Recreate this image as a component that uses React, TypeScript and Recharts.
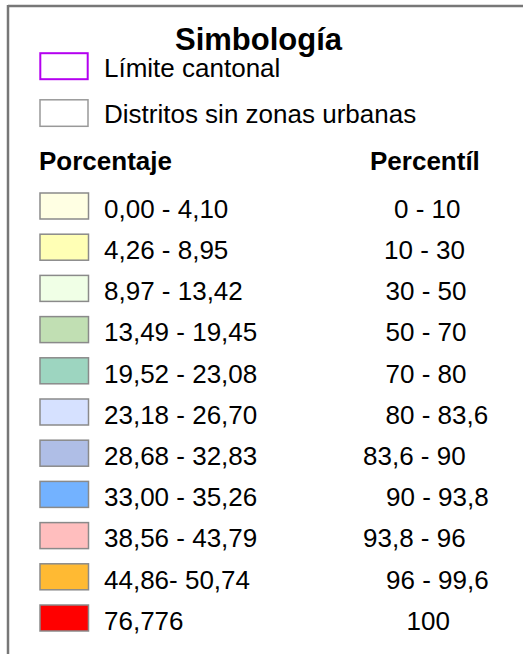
import { BarChart, Bar, XAxis, YAxis, Customized } from 'recharts';

// class ranges (porcentaje), percentiles and fill colours, top to bottom
const ranges = [
  '0,00 - 4,10',
  '4,26 - 8,95',
  '8,97 - 13,42',
  '13,49 - 19,45',
  '19,52 - 23,08',
  '23,18 - 26,70',
  '28,68 - 32,83',
  '33,00 - 35,26',
  '38,56 - 43,79',
  '44,86- 50,74',
  '76,776',
];
const percentiles = [
  '0 - 10',
  '10 - 30',
  '30 - 50',
  '50 - 70',
  '70 - 80',
  '80 - 83,6',
  '83,6 - 90',
  '90 - 93,8',
  '93,8 - 96',
  '96 - 99,6',
  '100',
];
const colors = [
  '#FFFFE3',
  '#FFFFB5',
  '#F0FFE6',
  '#C1DFB3',
  '#9DD5C0',
  '#D6E1FF',
  '#AFBEE6',
  '#73B2FF',
  '#FFBEBE',
  '#FFBA33',
  '#FF0000',
];

// left edge of each percentile label, as laid out in the original
const pctX = [394, 384, 385.5, 385.5, 385.5, 385.5, 363, 386, 363, 386, 406.5];

const FONT = '"Liberation Sans", Arial, sans-serif';
const PATCH = 1; // every legend patch spans the whole (unit) x axis

const rows = ranges.map((range, i) => ({
  range,
  pct: percentiles[i],
  color: colors[i],
  patch: PATCH,
}));

function Swatch(props: any) {
  const { x, y, width, height, payload, index } = props;
  const base = y + height - 1.2;
  return (
    <g>
      <rect x={x} y={y} width={width} height={height} fill={payload.color} stroke="#8a8a8a" strokeWidth={1.5} />
      <text x={104} y={base} fontSize={26} fontFamily={FONT} fill="#000">
        {payload.range}
      </text>
      <text x={pctX[index]} y={base} fontSize={26} fontFamily={FONT} fill="#000">
        {payload.pct}
      </text>
    </g>
  );
}

function Header() {
  return (
    <g fontFamily={FONT} fill="#000">
      <line x1={8} y1={6} x2={523} y2={6} stroke="#777" strokeWidth={2.5} />
      <line x1={8} y1={5} x2={8} y2={654} stroke="#777" strokeWidth={2.5} />
      <text x={258.5} y={50} fontSize={31} fontWeight="bold" textAnchor="middle">
        Simbología
      </text>
      <rect x={40.3} y={53.2} width={47.4} height={26} fill="#fff" stroke="#B400F0" strokeWidth={2} />
      <text x={104} y={77} fontSize={26}>Límite cantonal</text>
      <rect x={40} y={99.8} width={48} height={26.5} fill="#fff" stroke="#999" strokeWidth={1.5} />
      <text x={104} y={123} fontSize={26}>Distritos sin zonas urbanas</text>
      <text x={39} y={170} fontSize={26} fontWeight="bold">Porcentaje</text>
      <text x={370} y={170} fontSize={26} fontWeight="bold">Percentíl</text>
    </g>
  );
}

export default function App() {
  return (
    <div style={{ position: 'absolute', left: 0, top: 0, background: '#fff' }}>
      <BarChart
        width={523}
        height={654}
        data={rows}
        layout="vertical"
        barSize={26}
        margin={{ top: 185, right: 434.5, bottom: 15.8, left: 40 }}
      >
        <XAxis type="number" domain={[0, 1]} hide />
        <YAxis type="category" dataKey="range" hide />
        <Bar dataKey="patch" isAnimationActive={false} shape={<Swatch />} />
        <Customized component={<Header />} />
      </BarChart>
    </div>
  );
}
